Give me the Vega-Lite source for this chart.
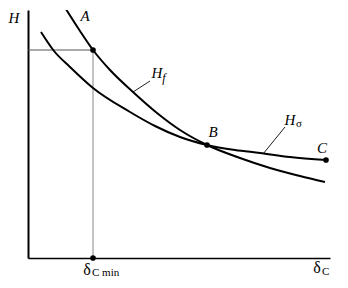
{
  "$schema": "https://vega.github.io/schema/vega-lite/v6.json",
  "width": 302,
  "height": 248,
  "autosize": {"type": "none"},
  "padding": {"left": 28, "top": 10, "right": 18, "bottom": 30},
  "background": "white",
  "config": {"view": {"stroke": null}},
  "datasets": {
    "curves": [
      {"curve": "Hf", "x": 36, "y": 252},
      {"curve": "Hf", "x": 52, "y": 227},
      {"curve": "Hf", "x": 65, "y": 208},
      {"curve": "Hf", "x": 82, "y": 188},
      {"curve": "Hf", "x": 105, "y": 166},
      {"curve": "Hf", "x": 129, "y": 145},
      {"curve": "Hf", "x": 152, "y": 128},
      {"curve": "Hf", "x": 179, "y": 113},
      {"curve": "Hf", "x": 212, "y": 100},
      {"curve": "Hf", "x": 242, "y": 90},
      {"curve": "Hf", "x": 272, "y": 82},
      {"curve": "Hf", "x": 297, "y": 76},
      {"curve": "Hs", "x": 13, "y": 226},
      {"curve": "Hs", "x": 26, "y": 207},
      {"curve": "Hs", "x": 42, "y": 191},
      {"curve": "Hs", "x": 65, "y": 170},
      {"curve": "Hs", "x": 102, "y": 146},
      {"curve": "Hs", "x": 127, "y": 132},
      {"curve": "Hs", "x": 152, "y": 121},
      {"curve": "Hs", "x": 179, "y": 113},
      {"curve": "Hs", "x": 207, "y": 108},
      {"curve": "Hs", "x": 232, "y": 105},
      {"curve": "Hs", "x": 262, "y": 101},
      {"curve": "Hs", "x": 298, "y": 98}
    ],
    "points": [
      {"label": "A", "x": 65, "y": 208},
      {"label": "B", "x": 179, "y": 113},
      {"label": "C", "x": 298, "y": 98},
      {"label": "δCmin", "x": 65, "y": 0}
    ],
    "hline": [{"x": 0, "y": 208, "x2": 65, "y2": 208}],
    "vline": [{"x": 65, "y": 208, "x2": 65, "y2": 0}],
    "leaders": [
      {"x": 105, "y": 166, "x2": 122, "y2": 177},
      {"x": 235, "y": 104, "x2": 257, "y2": 131}
    ],
    "italic": [
      {"text": "H", "x": -14, "y": 240},
      {"text": "A", "x": 57, "y": 242},
      {"text": "H", "x": 129, "y": 185},
      {"text": "B", "x": 185, "y": 126},
      {"text": "H", "x": 262, "y": 138},
      {"text": "C", "x": 294, "y": 110}
    ],
    "italicSub": [
      {"text": "f", "x": 136, "y": 180}
    ],
    "upright": [
      {"text": "δ", "x": 59, "y": -12},
      {"text": "δ", "x": 289, "y": -10}
    ],
    "uprightSub": [
      {"text": "σ", "x": 268, "y": 134},
      {"text": "C min", "x": 64, "y": -15},
      {"text": "C", "x": 294, "y": -14}
    ]
  },
  "encoding": {
    "x": {"field": "x", "type": "quantitative", "scale": {"domain": [0, 302], "nice": false, "zero": false},
      "axis": {"title": null, "labels": false, "ticks": false, "grid": false, "domainColor": "black", "domainWidth": 1.5}},
    "y": {"field": "y", "type": "quantitative", "scale": {"domain": [0, 248], "nice": false, "zero": false},
      "axis": {"title": null, "labels": false, "ticks": false, "grid": false, "domainColor": "black", "domainWidth": 2}}
  },
  "layer": [
    {"data": {"name": "hline"}, "mark": {"type": "rule", "color": "#555", "strokeWidth": 1.2},
      "encoding": {"x2": {"field": "x2"}, "y2": {"field": "y2"}}},
    {"data": {"name": "vline"}, "mark": {"type": "rule", "color": "#888", "strokeWidth": 1},
      "encoding": {"x2": {"field": "x2"}, "y2": {"field": "y2"}}},
    {"data": {"name": "leaders"}, "mark": {"type": "rule", "color": "#222", "strokeWidth": 1},
      "encoding": {"x2": {"field": "x2"}, "y2": {"field": "y2"}}},
    {"data": {"name": "curves"}, "mark": {"type": "line", "color": "black", "strokeWidth": 2, "interpolate": "monotone", "clip": true},
      "encoding": {"detail": {"field": "curve"}, "order": {"field": "x", "type": "quantitative"}}},
    {"data": {"name": "points"}, "mark": {"type": "point", "filled": true, "color": "black", "size": 32, "opacity": 1}},
    {"data": {"name": "italic"}, "mark": {"type": "text", "font": "Liberation Serif", "fontStyle": "italic", "fontSize": 15, "color": "black"},
      "encoding": {"text": {"field": "text"}}},
    {"data": {"name": "italicSub"}, "mark": {"type": "text", "font": "Liberation Serif", "fontStyle": "italic", "fontSize": 12, "color": "black"},
      "encoding": {"text": {"field": "text"}}},
    {"data": {"name": "upright"}, "mark": {"type": "text", "font": "Liberation Serif", "fontSize": 16, "color": "black"},
      "encoding": {"text": {"field": "text"}}},
    {"data": {"name": "uprightSub"}, "mark": {"type": "text", "font": "Liberation Serif", "fontSize": 11, "color": "black", "align": "left"},
      "encoding": {"text": {"field": "text"}}}
  ]
}
